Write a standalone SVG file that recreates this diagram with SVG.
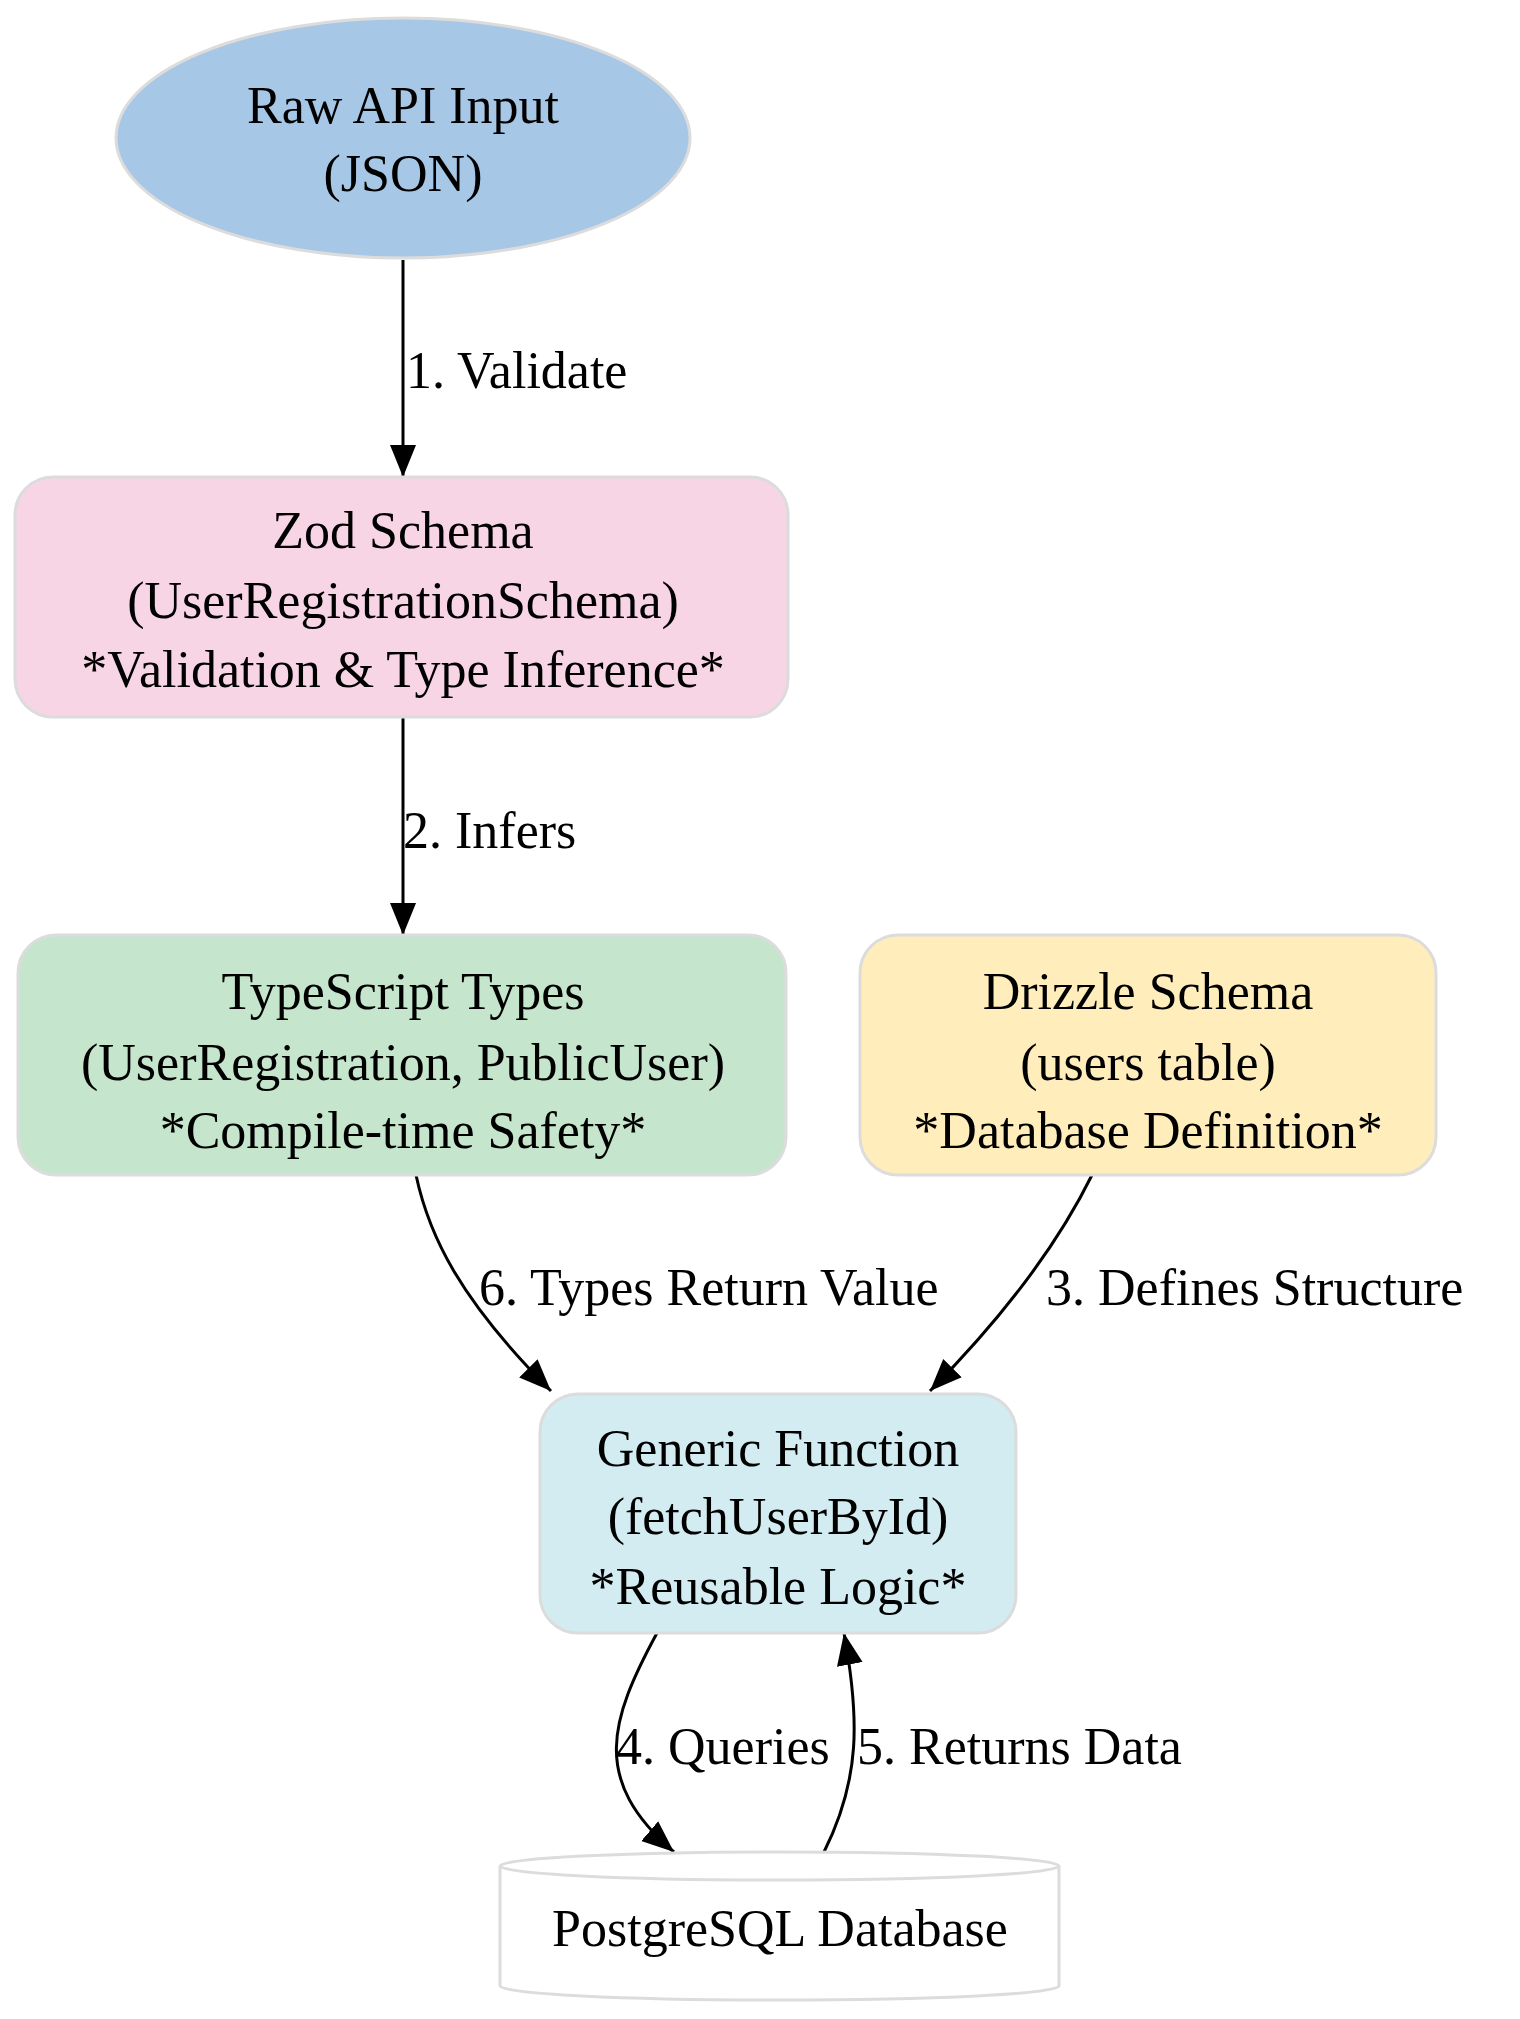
<svg xmlns="http://www.w3.org/2000/svg" width="1520" height="2019" viewBox="0 0 1520 2019">
<style>
text{font-family:"Liberation Serif","Times New Roman",serif;font-size:52px;fill:#000}
.c{text-anchor:middle}
.n{stroke:#dcdcdc;stroke-width:3}
.e{fill:none;stroke:#000;stroke-width:3;marker-end:url(#a)}
</style>
<defs>
<marker id="a" markerUnits="userSpaceOnUse" markerWidth="34" markerHeight="30" refX="32" refY="15" orient="auto">
<path d="M0,2 L32,15 L0,28 Z" fill="#000"/>
</marker>
</defs>
<rect width="1520" height="2019" fill="#fff"/>
<g id="connectors">
<path class="e" d="M403,260 L403,477"/>
<path class="e" d="M403,717 L403,935"/>
<path class="e" d="M416,1175 C429,1236 460,1300 551,1391"/>
<path class="e" d="M1092,1175 C1060,1240 1010,1310 930,1391"/>
<path class="e" d="M657,1633 C610,1720 590,1780 674,1852"/>
<path class="e" d="M824,1852 C860,1780 860,1720 844,1633"/>
<text x="406" y="388">1. Validate</text>
<text x="403" y="848">2. Infers</text>
<text x="479" y="1305">6. Types Return Value</text>
<text x="1046" y="1305">3. Defines Structure</text>
<text x="616" y="1764">4. Queries</text>
<text x="857" y="1764">5. Returns Data</text>
</g>
<g id="raw">
<ellipse class="n" cx="403" cy="138" rx="287" ry="120" fill="#a7c7e7"/>
<text class="c" x="403" y="123">Raw API Input</text>
<text class="c" x="403" y="191">(JSON)</text>
</g>
<g id="zod">
<rect class="n" x="15" y="477" width="773" height="240" rx="38" fill="#f8d5e5"/>
<text class="c" x="403" y="548">Zod Schema</text>
<text class="c" x="403" y="618">(UserRegistrationSchema)</text>
<text class="c" x="403" y="687">*Validation &amp; Type Inference*</text>
</g>
<g id="ts">
<rect class="n" x="18" y="935" width="768" height="240" rx="38" fill="#c5e5cc"/>
<text class="c" x="403" y="1009">TypeScript Types</text>
<text class="c" x="403" y="1080">(UserRegistration, PublicUser)</text>
<text class="c" x="403" y="1148">*Compile-time Safety*</text>
</g>
<g id="drizzle">
<rect class="n" x="860" y="935" width="576" height="240" rx="38" fill="#ffedbb"/>
<text class="c" x="1148" y="1009">Drizzle Schema</text>
<text class="c" x="1148" y="1080">(users table)</text>
<text class="c" x="1148" y="1148">*Database Definition*</text>
</g>
<g id="generic">
<rect class="n" x="540" y="1394" width="476" height="239" rx="38" fill="#d3ecf1"/>
<text class="c" x="778" y="1466">Generic Function</text>
<text class="c" x="778" y="1534">(fetchUserById)</text>
<text class="c" x="778" y="1604">*Reusable Logic*</text>
</g>
<g id="db">
<path class="n" fill="#fff" d="M500,1866 A279.5,14 0 0 1 1059,1866 L1059,1986 A279.5,14 0 0 1 500,1986 Z"/>
<path class="n" fill="none" d="M500,1866 A279.5,14 0 0 0 1059,1866"/>
<text class="c" x="780" y="1946">PostgreSQL Database</text>
</g>
</svg>
